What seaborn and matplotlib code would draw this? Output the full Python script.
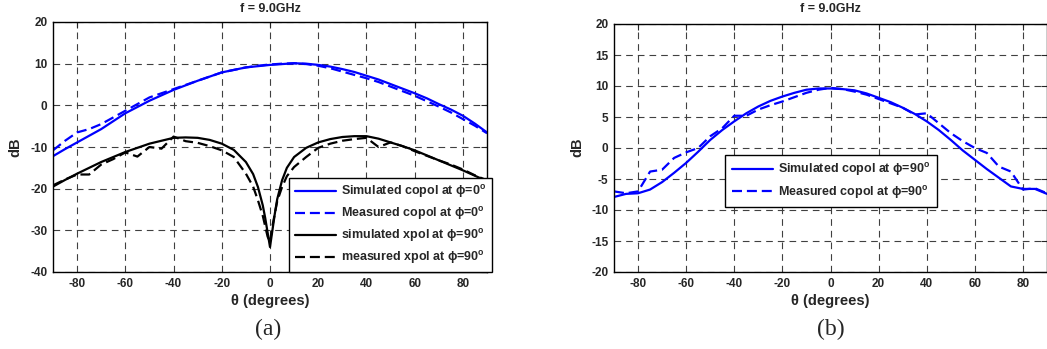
import numpy as np
import pandas as pd
import matplotlib
matplotlib.use("Agg")
import matplotlib.pyplot as plt
import seaborn as sns
from matplotlib.lines import Line2D

# ---------------- data ----------------
# Panel (a)
theta_a_co = [-90, -85, -80, -75, -70, -65, -60, -55, -50, -45, -40, -35, -30, -25, -20, -15, -10, -5, 0,
              5, 10, 15, 20, 25, 30, 35, 40, 45, 50, 55, 60, 65, 70, 75, 80, 85, 90]
sim_copol_0 = [-12.2, -10.5, -8.9, -7.3, -5.7, -3.8, -1.9, -0.4, 1.1, 2.4, 3.7, 4.8, 5.9, 6.9, 7.9, 8.5, 9.1, 9.4, 9.7,
               9.9, 10.1, 10.0, 9.7, 9.3, 8.7, 8.0, 7.1, 6.2, 5.1, 4.0, 2.9, 1.7, 0.3, -1.0, -2.5, -4.4, -6.5]
meas_copol_0 = [-10.8, -8.5, -6.5, -5.7, -4.5, -2.9, -1.3, 0.3, 1.9, 2.9, 3.9, 4.9, 5.9, 6.9, 7.9, 8.5, 9.1, 9.5, 9.8,
                10.0, 10.1, 9.9, 9.5, 8.9, 8.1, 7.3, 6.5, 5.6, 4.5, 3.4, 2.3, 1.0, -0.3, -1.7, -3.3, -4.9, -6.7]

theta_a_x = [-90, -85, -80, -75, -70, -65, -60, -55, -50, -45, -40, -35, -30, -25, -20, -15, -10, -7, -5, -3, -2, -1, 0,
             1, 2, 3, 5, 7, 10, 15, 20, 25, 30, 35, 40, 45, 50, 55, 60, 65, 70, 75, 80, 85, 90]
sim_xpol_90 = [-19.5, -17.9, -16.4, -15.0, -13.6, -12.4, -11.2, -10.2, -9.2, -8.5, -7.8, -7.7, -7.8, -8.3, -9.2, -10.7,
               -13.6, -16.5, -19.6, -24.0, -27.0, -30.5, -34.0,
               -30.0, -26.0, -22.5, -18.0, -15.0, -12.4, -10.2, -8.9, -8.1, -7.6, -7.4, -7.4, -8.0, -8.9, -9.8, -10.8,
               -12.0, -13.2, -14.4, -15.6, -16.9, -18.2]
meas_xpol_90 = [-19.2, -17.8, -16.6, -16.6, -14.2, -12.9, -11.3, -12.3, -10.0, -10.4, -7.5, -8.6, -9.0, -9.8, -10.8, -12.4,
                -16.4, -19.5, -22.8, -26.5, -29.0, -31.5, -32.8,
                -29.0, -26.0, -23.0, -19.6, -17.0, -14.8, -12.4, -10.2, -9.2, -8.5, -8.1, -7.8, -10.0, -8.9, -9.8, -11.0,
                -12.1, -13.2, -14.2, -15.4, -16.8, -18.0]

# Panel (b)
theta_b = [-90, -85, -80, -75, -70, -65, -60, -55, -50, -45, -40, -35, -30, -25, -20, -15, -10, -5, 0,
           5, 10, 15, 20, 25, 30, 35, 40, 45, 50, 55, 60, 65, 70, 75, 80, 85, 90]
sim_copol_90 = [-7.9, -7.4, -7.3, -6.7, -5.5, -4.0, -2.4, -0.6, 1.3, 2.9, 4.3, 5.6, 6.7, 7.6, 8.3, 8.9, 9.4, 9.6, 9.6,
                9.5, 9.3, 8.8, 8.1, 7.4, 6.5, 5.5, 4.3, 2.9, 1.3, -0.4, -1.9, -3.4, -4.8, -6.2, -6.6, -6.6, -7.4]
meas_copol_90 = [-7.0, -7.3, -7.0, -3.8, -3.5, -1.6, -0.7, 0.0, 1.9, 3.2, 5.2, 5.2, 6.2, 6.9, 7.5, 8.2, 8.9, 9.4, 9.7,
                 9.5, 9.1, 8.6, 7.9, 7.2, 6.5, 5.4, 5.6, 4.0, 2.4, 1.1, 0.0, -0.8, -3.0, -3.8, -6.7, -6.5, -7.3]

labels_a = ["Simulated copol at \u03d5=0$^{\\mathbf{o}}$",
            "Measured copol at \u03d5=0$^{\\mathbf{o}}$",
            "simulated xpol at \u03d5=90$^{\\mathbf{o}}$",
            "measured xpol at \u03d5=90$^{\\mathbf{o}}$"]
labels_b = ["Simulated copol at \u03d5=90$^{\\mathbf{o}}$",
            "Measured copol at \u03d5=90$^{\\mathbf{o}}$"]
title_text = "f = 9.0GHz"
xlabel_text = "\u03b8 (degrees)"
ylabel_text = "dB"
xticks = [-80, -60, -40, -20, 0, 20, 40, 60, 80]
yticks_a = [-40, -30, -20, -10, 0, 10, 20]
yticks_b = [-20, -15, -10, -5, 0, 5, 10, 15, 20]

# ---------------- style ----------------
sns.set_style("white")
plt.rcParams['font.family'] = ['Liberation Sans', 'DejaVu Sans']
plt.rcParams['font.weight'] = 'bold'
plt.rcParams['axes.unicode_minus'] = False
plt.rcParams['mathtext.fontset'] = 'custom'
plt.rcParams['mathtext.bf'] = 'Liberation Sans:bold'
plt.rcParams['mathtext.rm'] = 'Liberation Sans:bold'

fig = plt.figure(figsize=(10.47, 3.49), dpi=100)
ax_a = fig.add_axes([53/1047, 1-272/349, 434/1047, 250/349])
ax_b = fig.add_axes([614/1047, 1-272/349, 433/1047, 248/349])

BLUE = "#0000ff"
BLACK = "#000000"

def draw(ax, x, y, color, dashed, label):
    df = pd.DataFrame({"theta": x, "dB": y})
    sns.lineplot(data=df, x="theta", y="dB", ax=ax, color=color, lw=1.6,
                 linestyle=(0, (4.5, 2.2)) if dashed else "-", legend=False, label=label,
                 errorbar=None, sort=False)

draw(ax_a, theta_a_co, sim_copol_0, BLUE, False, labels_a[0])
draw(ax_a, theta_a_co, meas_copol_0, BLUE, True, labels_a[1])
draw(ax_a, theta_a_x, sim_xpol_90, BLACK, False, labels_a[2])
draw(ax_a, theta_a_x, meas_xpol_90, BLACK, True, labels_a[3])

draw(ax_b, theta_b, sim_copol_90, BLUE, False, labels_b[0])
draw(ax_b, theta_b, meas_copol_90, BLUE, True, labels_b[1])

for ax, yt, lbl_x in [(ax_a, yticks_a, 15), (ax_b, yticks_b, 577)]:
    ax.set_xlim(-90, 90)
    ax.set_ylim(yt[0], yt[-1])
    ax.set_xticks(xticks)
    ax.set_yticks(yt)
    ax.grid(True, color="#404040", linestyle=(0, (6, 4.5)), linewidth=0.8)
    ax.tick_params(axis="both", direction="in", length=4, width=0.8, labelsize=8.5,
                   top=True, right=True, pad=4)
    for t in ax.get_xticklabels() + ax.get_yticklabels():
        t.set_fontweight("bold")
    for s in ax.spines.values():
        s.set_color("black")
        s.set_linewidth(1.0)
    ax.set_xlabel(xlabel_text, fontsize=10.5, fontweight="bold", labelpad=3)
    ax.set_ylabel("")
    ax.set_title("")
    cx = (ax.get_position().x0 + ax.get_position().x1) / 2
    fig.text(cx, 1 - 9/349, title_text, ha="center", va="center", fontsize=9, fontweight="bold")
    fig.text(lbl_x/1047, 1 - 147/349, ylabel_text, ha="center", va="center", rotation=90,
             fontsize=10.5, fontweight="bold")

# panel letters
fig.text(268/1047, 1 - 329/349, "(a)", ha="center", va="center", fontsize=17,
         family="Liberation Serif", fontweight="normal")
fig.text(831/1047, 1 - 329/349, "(b)", ha="center", va="center", fontsize=17,
         family="Liberation Serif", fontweight="normal")

# legends
def handles(specs):
    return [Line2D([0], [0], color=c, lw=1.6, linestyle=(0, (4.5, 2.2)) if d else "-") for c, d in specs]

leg_a = ax_a.legend(handles([(BLUE, False), (BLUE, True), (BLACK, False), (BLACK, True)]), labels_a,
                    loc="lower right", bbox_to_anchor=(492/1047, 1-272/349), bbox_transform=fig.transFigure,
                    borderaxespad=0, fancybox=False, framealpha=1, edgecolor="black",
                    prop={"weight": "bold", "size": 9}, handlelength=3.3, handletextpad=0.4,
                    labelspacing=0.4, borderpad=0.45)
leg_a.get_frame().set_linewidth(1.0)

leg_b = ax_b.legend(handles([(BLUE, False), (BLUE, True)]), labels_b,
                    loc="center", bbox_to_anchor=(831/1047, 1-181/349), bbox_transform=fig.transFigure,
                    borderaxespad=0, fancybox=False, framealpha=1, edgecolor="black",
                    prop={"weight": "bold", "size": 9}, handlelength=3.3, handletextpad=0.4,
                    labelspacing=0.45, borderpad=0.5)
leg_b.get_frame().set_linewidth(1.0)

fig.savefig("out.png", dpi=100, facecolor="white")
